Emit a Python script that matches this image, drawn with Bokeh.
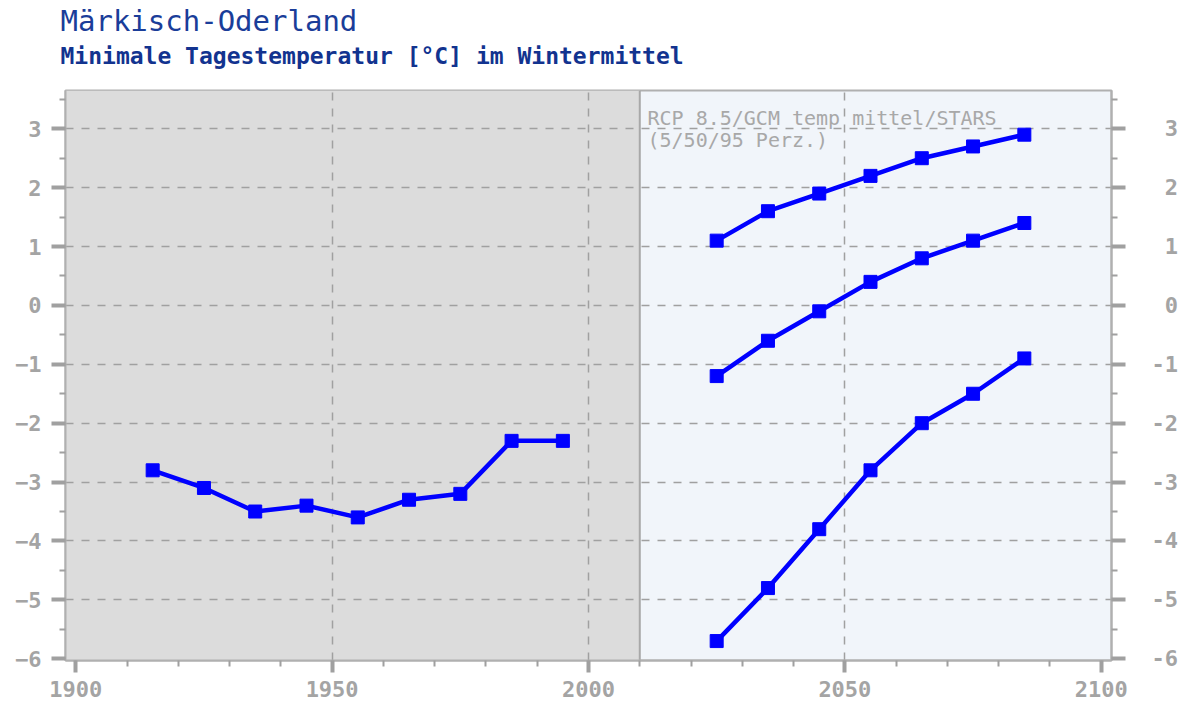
from bokeh.plotting import figure
from bokeh.models import (Range1d, LinearAxis, SingleIntervalTicker, FixedTicker,
                          BoxAnnotation, Span, Label, Title)
from bokeh.embed import file_html
from bokeh.resources import INLINE

# ---- data ----
hist_years = [1915, 1925, 1935, 1945, 1955, 1965, 1975, 1985, 1995]
hist_vals = [-2.8, -3.1, -3.5, -3.4, -3.6, -3.3, -3.2, -2.3, -2.3]

proj_years = [2025, 2035, 2045, 2055, 2065, 2075, 2085]
p95_vals = [1.1, 1.6, 1.9, 2.2, 2.5, 2.7, 2.9]
p50_vals = [-1.2, -0.6, -0.1, 0.4, 0.8, 1.1, 1.4]
p05_vals = [-5.7, -4.8, -3.8, -2.8, -2.0, -1.5, -0.9]

split_year = 2010
x_grid_years = [1950, 2000, 2050]
y_grid_vals = [-5, -4, -3, -2, -1, 0, 1, 2, 3]
title_text = "Märkisch-Oderland"
subtitle_text = "Minimale Tagestemperatur [°C] im Wintermittel"
note_lines = ["RCP 8.5/GCM temp mittel/STARS", "(5/50/95 Perz.)"]

MONO = "DejaVu Sans Mono"
GREY = "#a4a4a4"
LINE_BLUE = "#0000ff"

p = figure(width=1180, height=700, output_backend="svg", toolbar_location=None,
           x_range=Range1d(1898, 2102), y_range=Range1d(-6.03, 3.65),
           min_border_left=65, min_border_right=68, min_border_top=90,
           min_border_bottom=40, y_axis_location="left")

p.background_fill_color = "#f1f5fa"
p.border_fill_color = "white"
p.outline_line_color = "#b0b0b0"
p.outline_line_width = 2

# background regions
p.add_layout(BoxAnnotation(right=split_year, fill_color="#dcdcdc", fill_alpha=1.0,
                           line_alpha=0, level="image"))
p.add_layout(Span(location=split_year, dimension="height", line_color="#a8a8a8",
                  line_width=2, level="underlay"))

# axes
xt = SingleIntervalTicker(interval=50, num_minor_ticks=5)
yt = SingleIntervalTicker(interval=1, num_minor_ticks=2)
p.xaxis.ticker = xt
p.yaxis.ticker = yt

right_axis = LinearAxis(ticker=yt)
p.add_layout(right_axis, "right")
right_axis.major_label_overrides = {v: ("\u00a0" + str(v) if v >= 0 else str(v))
                                    for v in range(-6, 4)}

for ax in [p.xaxis[0], p.yaxis[0], right_axis]:
    ax.axis_line_color = "#b0b0b0"
    ax.axis_line_width = 2
    ax.major_tick_in = 0
    ax.major_tick_out = 12
    ax.major_tick_line_width = 4
    ax.major_tick_line_color = "#a0a0a0"
    ax.minor_tick_in = 0
    ax.minor_tick_out = 6
    ax.minor_tick_line_width = 2
    ax.minor_tick_line_color = "#a0a0a0"
    ax.major_label_text_font = MONO
    ax.major_label_text_font_size = "22px"
    ax.major_label_text_font_style = "bold"
    ax.major_label_text_color = GREY

p.yaxis[0].major_tick_out = 14
p.yaxis[0].major_label_standoff = 10
right_axis.major_tick_out = 14
right_axis.major_label_standoff = 26
p.xaxis[0].major_label_standoff = 8

# grids
for g in [p.xgrid[0], p.ygrid[0]]:
    g.grid_line_color = "#a0a0a0"
    g.grid_line_width = 1.5
    g.grid_line_dash = "8 8"
p.xgrid[0].ticker = FixedTicker(ticks=x_grid_years)
p.ygrid[0].ticker = FixedTicker(ticks=y_grid_vals)

# series
for xs, ys in [(hist_years, hist_vals), (proj_years, p95_vals),
               (proj_years, p50_vals), (proj_years, p05_vals)]:
    p.line(xs, ys, line_color=LINE_BLUE, line_width=4.5)
    p.scatter(xs, ys, marker="square", size=13, fill_color=LINE_BLUE,
              line_color=LINE_BLUE)

# note text
p.add_layout(Label(x=2011.5, y=3.38, text=note_lines[0], text_font=MONO,
                   text_font_size="20px", text_color="#a8a8a8",
                   text_baseline="top", text_align="left"))
p.add_layout(Label(x=2011.5, y=3.01, text=note_lines[1], text_font=MONO,
                   text_font_size="20px", text_color="#a8a8a8",
                   text_baseline="top", text_align="left"))

# titles (first added is closest to the frame); a blank spacer keeps a gap
p.add_layout(Title(text=" ", text_font=MONO, text_font_size="10px",
                   standoff=8), "above")
p.add_layout(Title(text=subtitle_text, text_font=MONO, text_font_size="23px",
                   text_font_style="bold", text_color="#12338f", align="left",
                   offset=-5, standoff=2), "above")
p.add_layout(Title(text=title_text, text_font=MONO, text_font_size="29px",
                   text_font_style="normal", text_color="#1a3d99", align="left",
                   offset=-5, standoff=3), "above")

open("out.html", "w").write(file_html(p, INLINE))
